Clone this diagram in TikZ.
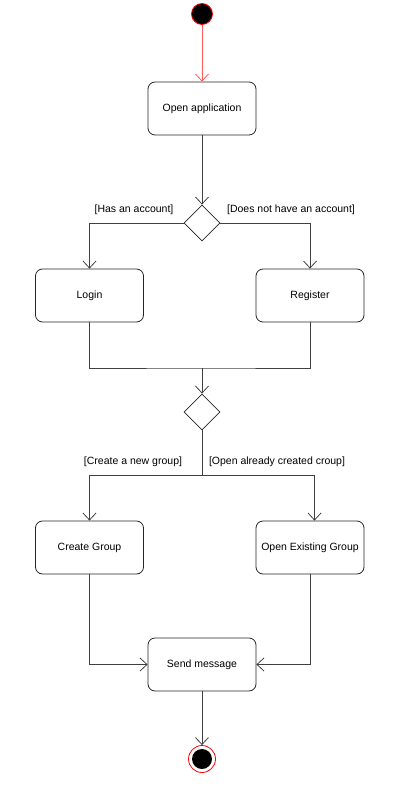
\documentclass[tikz,border=0pt]{standalone}
\usepackage{fontspec}
\setmainfont{Liberation Sans}
\usetikzlibrary{arrows.meta,shapes.geometric}

\begin{document}
\begin{tikzpicture}[x=1pt,y=-1pt,line width=0.8pt,
  activity/.style={draw=black!85,rounded corners=7pt,minimum width=108pt,minimum height=53pt,font=\fontsize{10.5}{13}\selectfont},
  decision/.style={draw=black!85,diamond,minimum width=36pt,minimum height=36pt,inner sep=0pt},
  initial/.style={circle,fill=black,draw=red,minimum size=21pt,inner sep=0pt},
  final/.style={circle,draw=red,fill=white,minimum size=27pt,inner sep=0pt,
    path picture={\fill[black] (path picture bounding box.center) circle (10pt);}},
  flow/.style={draw=black!75,-{Straight Barb[length=7pt,width=13pt,line width=0.8pt]}},
  guard/.style={font=\fontsize{10.5}{13}\selectfont}]
\useasboundingbox (0,0) rectangle (414,789);

% nodes
\node[initial] (init) at (202,14) {};
\node[activity] (open) at (202,108.5) {Open application};
\node[decision] (d1) at (202,223) {};
\node[activity] (login) at (89.5,295.5) {Login};
\node[activity] (reg) at (310,295.5) {Register};
\coordinate (m1) at (202,368);
\node[decision] (d2) at (202,412) {};
\coordinate (m2) at (202,475);
\node[activity] (create) at (89.5,547.5) {Create Group};
\node[activity] (existing) at (310,547.5) {Open Existing Group};
\node[activity] (send) at (202,664.5) {Send message};
\node[final] (end) at (202,759) {};

% guards
\node[guard] (has) at (134,210) {[Has an account]};
\node[guard] (hasnot) at (291,210) {[Does not have an account]};
\node[guard] (new) at (133,462) {[Create a new group]};
\node[guard] (old) at (277,462) {[Open already created croup]};

% flows
\draw[flow,draw=red!65] (init) -- (open);
\draw[flow] (open) -- (d1);
\draw[flow] (d1.west) -| (login);
\draw[flow] (d1.east) -| (reg);
\draw[draw=black!75] (login) |- (m1) -| (reg);
\draw[flow] (m1) -- (d2);
\draw[draw=black!75] (d2) -- (m2);
\draw[flow] (m2) -| (create);
\draw[flow] (m2) -| ([xshift=4.5pt]existing.north);
\draw[flow] (create) |- (send);
\draw[flow] (existing) |- (send);
\draw[flow] (send) -- (end);
\end{tikzpicture}
\end{document}
